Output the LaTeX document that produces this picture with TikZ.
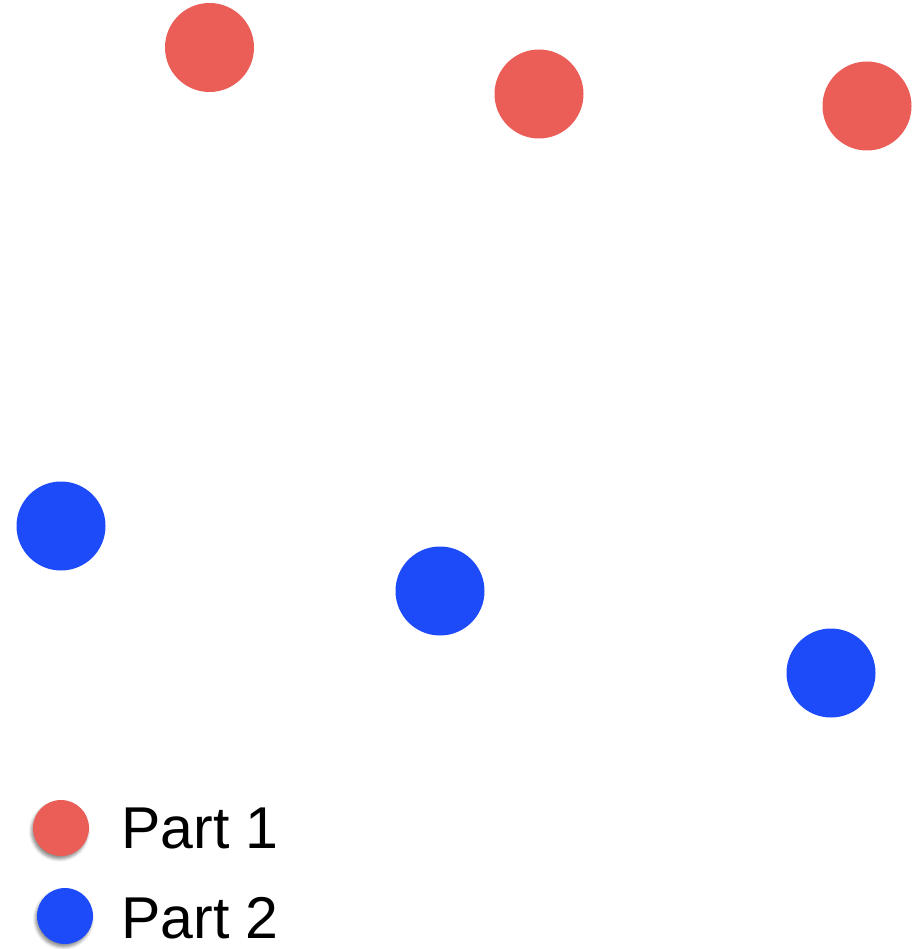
\documentclass[tikz,border=0pt]{standalone}
\usepackage{fontspec}
\setmainfont{Liberation Sans}
\usetikzlibrary{shadows.blur}
\definecolor{pred}{RGB}{235,94,87}
\definecolor{pblue}{RGB}{30,75,250}
\tikzset{
  dot/.style={circle, inner sep=0pt, minimum size=89pt},
  reddot/.style={dot, fill=pred},
  bluedot/.style={dot, fill=pblue},
  legdot/.style={circle, inner sep=0pt, minimum size=56pt,
    blur shadow={shadow xshift=-1.5pt, shadow yshift=-3pt, shadow blur radius=3pt, shadow opacity=45}},
  legtext/.style={anchor=base west, inner sep=0pt, font=\fontsize{59}{62}\selectfont}
}
\begin{document}
\begin{tikzpicture}[x=1pt,y=-1pt]
\useasboundingbox (0,0) rectangle (916,949);
\node[reddot] (r1) at (209.5,47.5) {};
\node[reddot] (r2) at (539,94) {};
\node[reddot] (r3) at (867,106) {};
\node[bluedot] (b1) at (61,526) {};
\node[bluedot] (b2) at (440,591) {};
\node[bluedot] (b3) at (831,673) {};
\node[legdot, fill=pred] (l1) at (61,828) {};
\node[legdot, fill=pblue] (l2) at (65,916) {};
\node[legtext] (t1) at (121,848) {Part 1};
\node[legtext] (t2) at (121,938) {Part 2};
\end{tikzpicture}
\end{document}
